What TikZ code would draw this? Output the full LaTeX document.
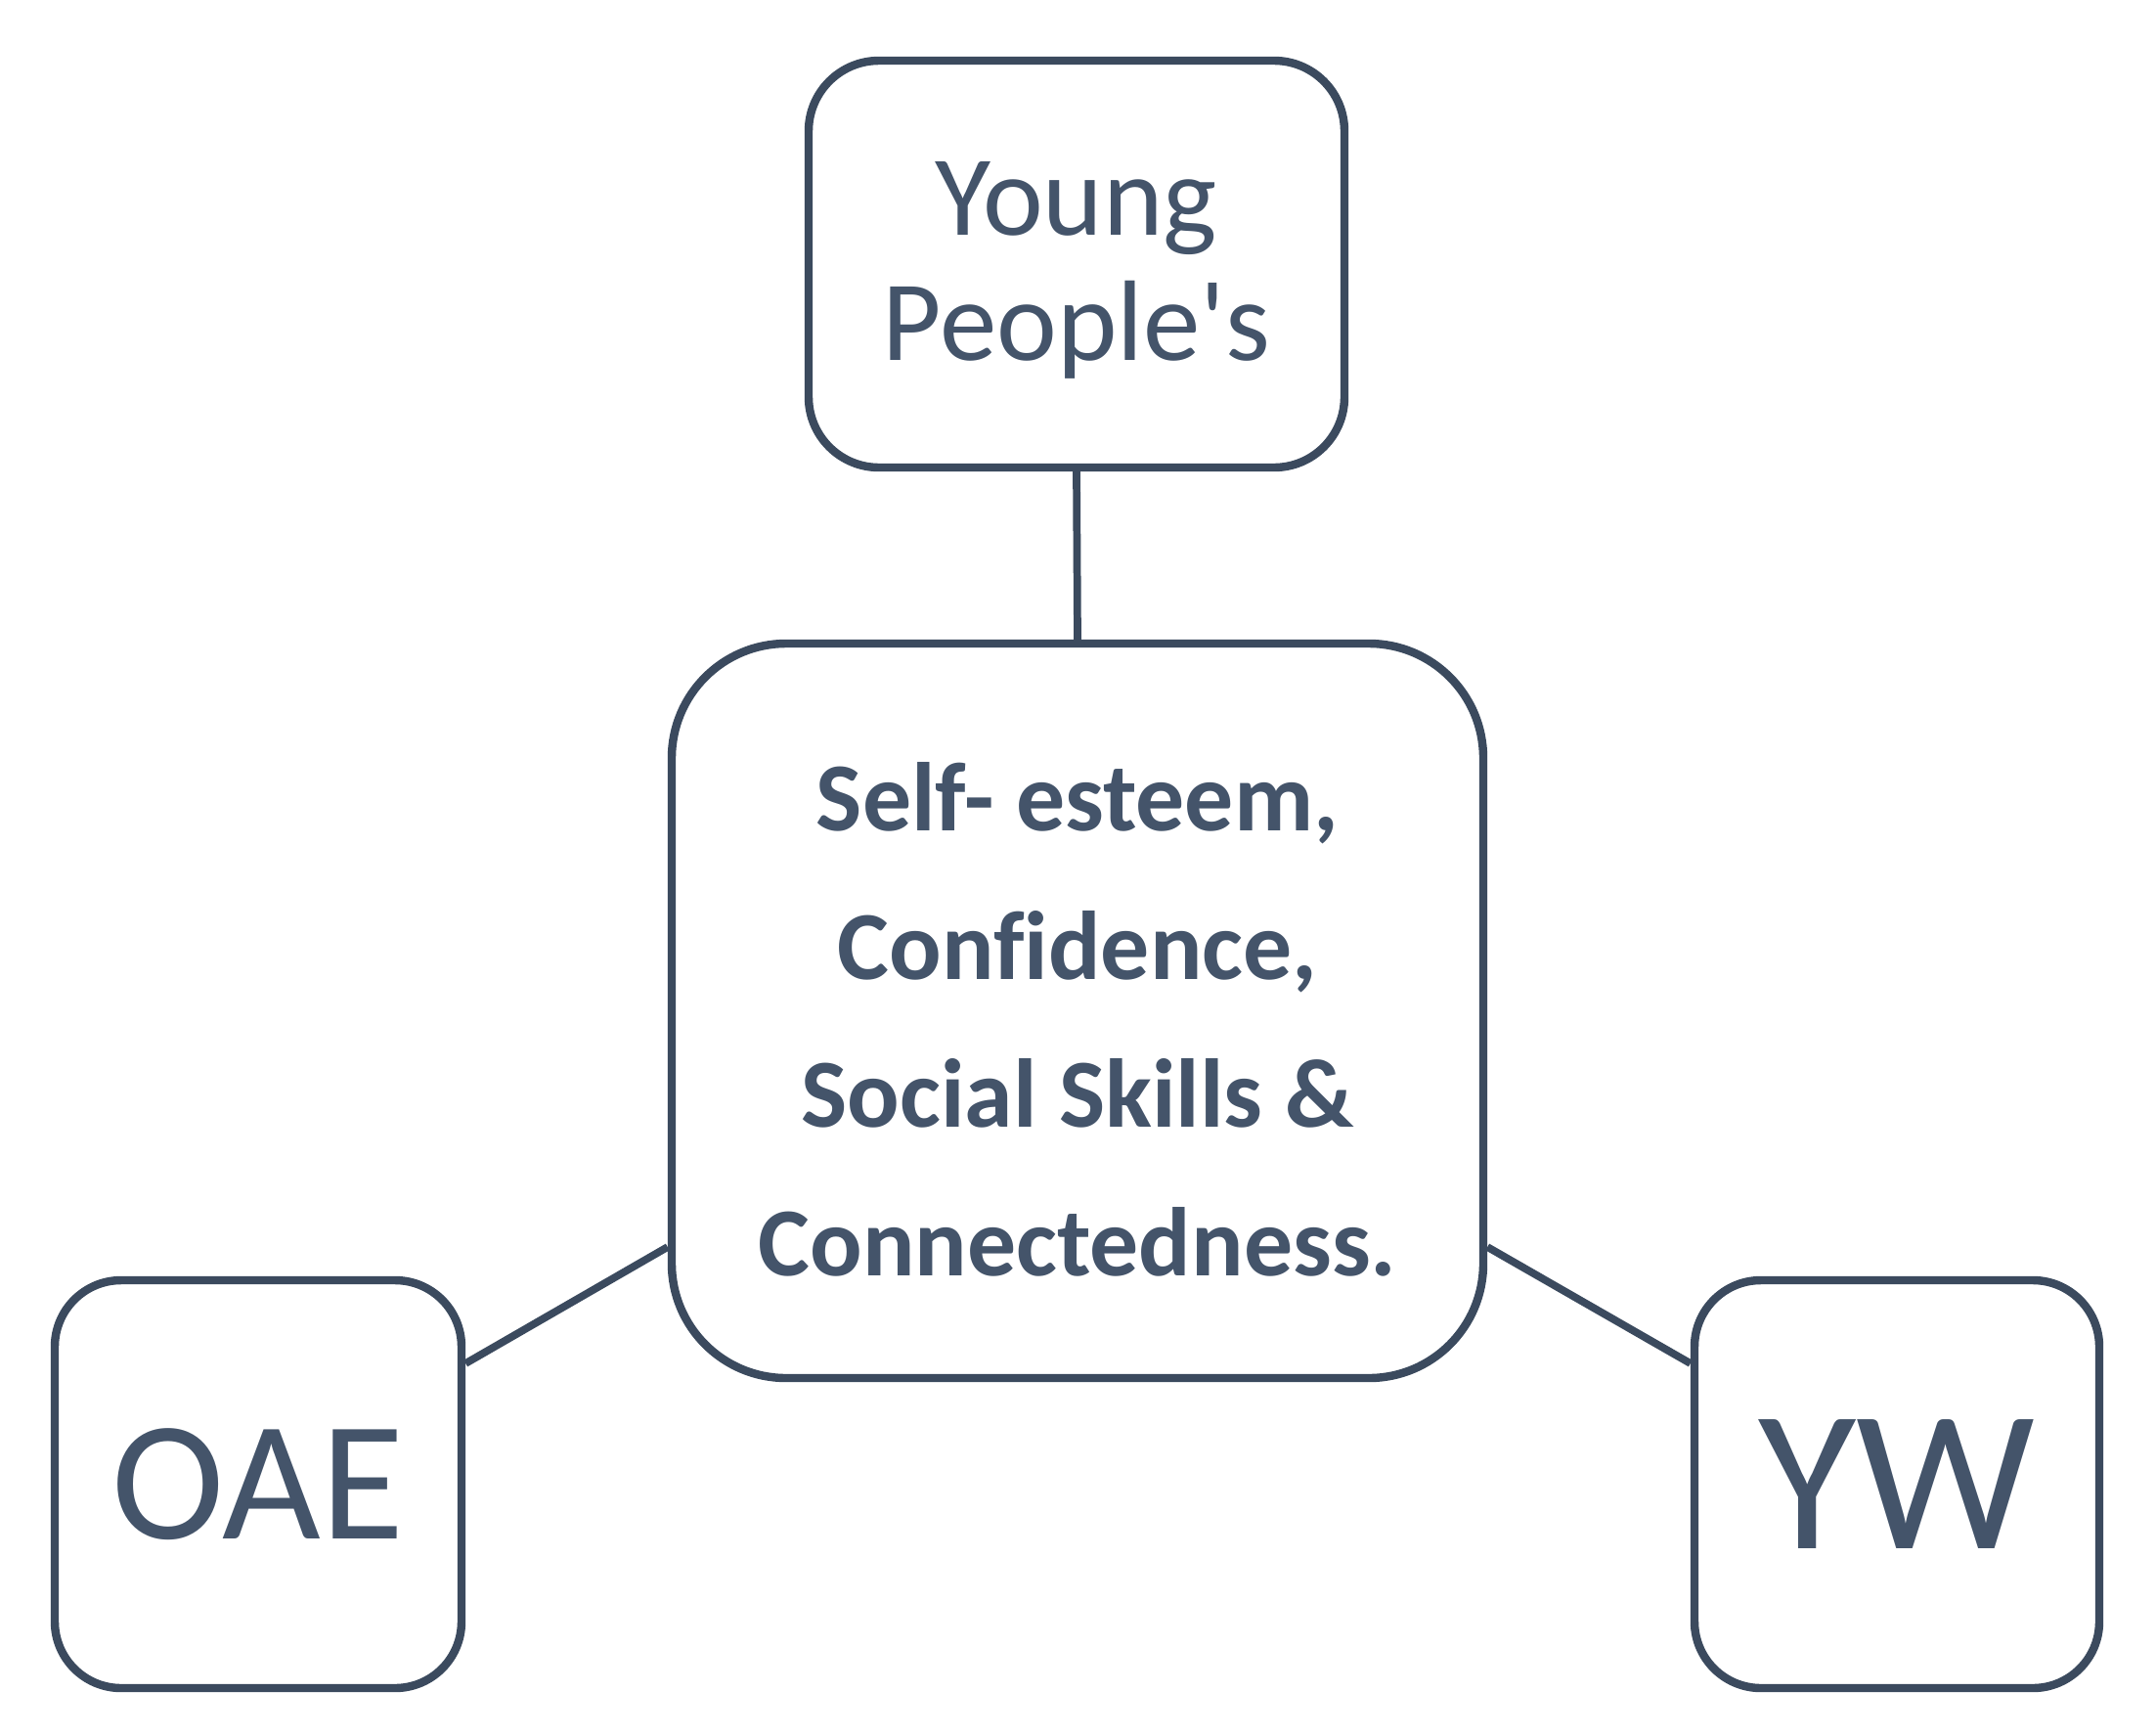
\documentclass[tikz,border=0pt]{standalone}
\usepackage{fontspec}
\setmainfont{Carlito}[Ligatures={NoCommon}]
\definecolor{slate}{HTML}{44546A}
\definecolor{edgeline}{HTML}{3B4A5E}

\begin{document}
\begin{tikzpicture}[line width=2.4pt,
  box/.style={draw=edgeline, inner sep=0pt, text=slate, align=center},
  link/.style={draw=edgeline, line width=2.2pt}]
  \useasboundingbox (0,0) rectangle (22.05,-17.75);

  % Boxes
  \node[box, minimum width=5.48cm, minimum height=4.16cm, rounded corners=0.72cm,
        font=\fontsize{33.3}{36.4}\selectfont] (young) at (11.01,-2.70)
        {\rule{0pt}{0.88cm}Young\\People\textquotesingle s};
  \node[box, minimum width=8.30cm, minimum height=7.51cm, rounded corners=1.17cm,
        font=\fontsize{28.4}{43.1}\selectfont\bfseries] (core) at (11.02,-10.335)
        {\rule{0pt}{0.88cm}Self- esteem,\\Confidence,\\Social Skills \&\\Connectedness.};
  \node[box, minimum width=4.16cm, minimum height=4.17cm, rounded corners=0.68cm,
        font=\fontsize{49.5}{54}\selectfont] (oae) at (2.64,-15.175) {OAE};
  \node[box, minimum width=4.14cm, minimum height=4.17cm, rounded corners=0.68cm,
        font=\fontsize{58.5}{64}\selectfont] (yw) at (19.40,-15.175) {YW};

  % Links
  \draw[link] (young.south) -- (core.north);
  \draw[link] ([yshift=1.235cm]oae.east) -- ([yshift=-2.415cm]core.west);
  \draw[link] ([yshift=-2.415cm]core.east) -- ([yshift=1.235cm]yw.west);
\end{tikzpicture}
\end{document}
